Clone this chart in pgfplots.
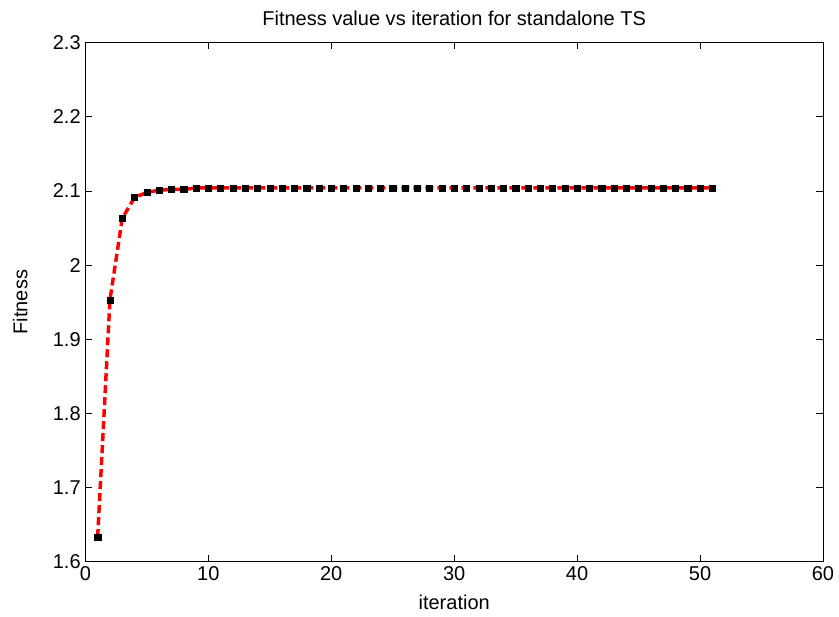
\documentclass[border=0pt]{standalone}
\usepackage{pgfplots}
\pgfplotsset{compat=1.18}
\usepackage{fontspec}
\setmainfont{Liberation Sans}
\usetikzlibrary{calc}

\begin{document}
\begin{tikzpicture}
\begin{axis}[
    scale only axis,
    width=553pt, height=389pt,
    xmin=0, xmax=60, ymin=1.6, ymax=2.3,
    xtick={0,10,...,60},
    ytick={1.6,1.7,...,2.3},
    yticklabel style={/pgf/number format/.cd,fixed,precision=1},
    /pgf/number format/assume math mode=true,
    tick align=inside,
    major tick length=5pt,
    tick style={black, line width=0.6pt},
    axis line style={black, line width=0.7pt},
    tick label style={font=\fontsize{15}{17}\selectfont},
    label style={font=\fontsize{15}{17}\selectfont},
    title style={font=\fontsize{15}{17}\selectfont, yshift=3pt},
    title={Fitness value vs iteration for standalone TS},
    xlabel={iteration},
    ylabel={Fitness},
    xlabel style={yshift=-4pt},
    ylabel style={yshift=12pt},
]
\addplot[red, line width=2.6pt, dash pattern=on 6pt off 3pt,
    mark=square*, mark size=2.3pt,
    mark options={solid, fill=black, draw=black, line width=0.3pt}]
coordinates {
(1,1.633) (2,1.953) (3,2.063) (4,2.091) (5,2.098) (6,2.101) (7,2.102) (8,2.102)
(9,2.104) (10,2.104) (11,2.104) (12,2.104) (13,2.104) (14,2.104) (15,2.104)
(16,2.104) (17,2.104) (18,2.104) (19,2.104) (20,2.104) (21,2.104) (22,2.104)
(23,2.104) (24,2.104) (25,2.104) (26,2.104) (27,2.104) (28,2.104) (29,2.104)
(30,2.104) (31,2.104) (32,2.104) (33,2.104) (34,2.104) (35,2.104) (36,2.104)
(37,2.104) (38,2.104) (39,2.104) (40,2.104) (41,2.104) (42,2.104) (43,2.104)
(44,2.104) (45,2.104) (46,2.104) (47,2.104) (48,2.104) (49,2.104) (50,2.104)
(51,2.104)
};
\end{axis}
\path ($(current axis.south west)+(-64pt,-41pt)$) rectangle ($(current axis.north east)+(12pt,32pt)$);
\end{tikzpicture}
\end{document}
